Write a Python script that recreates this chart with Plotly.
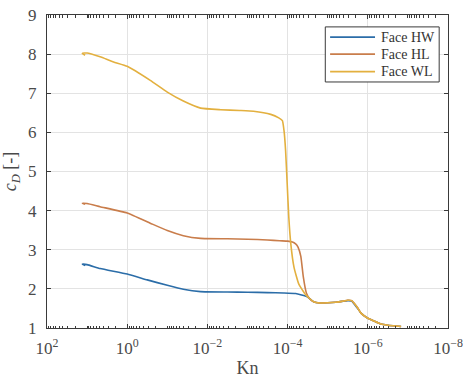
import plotly.graph_objects as go

# Knudsen number (log10 exponents) and drag coefficient values
hw_logkn = [1.05, 1.12, 1.0, 0.675, 0.0, -0.5, -1.0, -1.4, -1.83, -2.5, -3.0, -3.5, -3.9, -4.2, -4.49, -4.65,
            -4.8, -5.0, -5.2, -5.35, -5.5, -5.6, -5.67, -5.75, -5.83, -6.0, -6.15, -6.33, -6.5, -6.7, -6.83]
hw_cd = [2.60, 2.63, 2.62, 2.52, 2.38, 2.23, 2.09, 1.99, 1.93, 1.92, 1.915, 1.905, 1.895, 1.88, 1.80, 1.67,
         1.64, 1.645, 1.66, 1.68, 1.70, 1.69, 1.60, 1.50, 1.38, 1.25, 1.18, 1.10, 1.07, 1.05, 1.04]

hl_logkn = [1.05, 1.12, 1.0, 0.675, 0.0, -0.575, -1.0, -1.4, -1.83, -2.5, -3.0, -3.5, -3.8, -4.0, -4.12,
            -4.2, -4.26, -4.33, -4.39, -4.47, -4.55, -4.65, -4.8, -5.0, -5.2, -5.35, -5.5, -5.6, -5.67,
            -5.75, -5.83, -6.0, -6.15, -6.33, -6.5, -6.7, -6.83]
hl_cd = [4.16, 4.19, 4.18, 4.10, 3.94, 3.68, 3.49, 3.36, 3.29, 3.28, 3.27, 3.25, 3.23, 3.22, 3.20,
         3.15, 3.07, 2.83, 2.32, 1.89, 1.75, 1.67, 1.64, 1.645, 1.66, 1.68, 1.71, 1.70, 1.62,
         1.51, 1.38, 1.25, 1.18, 1.10, 1.07, 1.05, 1.04]

wl_logkn = [1.05, 1.12, 1.0, 0.675, 0.34, 0.0, -0.575, -1.0, -1.4, -1.83, -2.33, -2.8, -3.15, -3.58, -3.78,
            -3.87, -3.91, -3.95, -3.99, -4.03, -4.08, -4.16, -4.28, -4.45, -4.65, -4.8, -5.0, -5.2, -5.35,
            -5.5, -5.6, -5.67, -5.75, -5.83, -6.0, -6.15, -6.33, -6.5, -6.7, -6.83]
wl_cd = [7.97, 8.02, 8.03, 7.93, 7.80, 7.69, 7.33, 7.03, 6.80, 6.62, 6.58, 6.56, 6.54, 6.46, 6.37,
         6.30, 6.05, 5.54, 4.68, 3.83, 3.15, 2.55, 2.12, 1.85, 1.67, 1.64, 1.645, 1.66, 1.68,
         1.71, 1.70, 1.62, 1.51, 1.38, 1.25, 1.18, 1.10, 1.07, 1.05, 1.04]

series_names = ["Face HW", "Face HL", "Face WL"]
series_colors = ["#2b6da8", "#c97d4b", "#e3b03f"]

x_tickvals = [1e2, 1e0, 1e-2, 1e-4, 1e-6, 1e-8]
x_ticktext = ["10<sup>2</sup>", "10<sup>0</sup>", "10<sup>−2</sup>", "10<sup>−4</sup>",
              "10<sup>−6</sup>", "10<sup>−8</sup>"]
y_tickvals = [1, 2, 3, 4, 5, 6, 7, 8, 9]

FONT = "Liberation Serif"
TXT = "#4a4a4a"
AX = "#3a3a3a"

fig = go.Figure()
for name, color, lk, cd in zip(series_names, series_colors,
                               [hw_logkn, hl_logkn, wl_logkn], [hw_cd, hl_cd, wl_cd]):
    fig.add_trace(go.Scatter(
        x=[10 ** v for v in lk], y=cd, mode="lines", name=name, showlegend=False,
        line=dict(color=color, width=1.6, shape="spline", smoothing=0.4),
    ))

axis_common = dict(
    showline=True, linecolor=AX, linewidth=1, mirror="ticks",
    ticks="inside", ticklen=4, tickcolor=AX, tickwidth=1,
    showgrid=True, gridcolor="#e3e3e3", gridwidth=1, zeroline=False,
    tickfont=dict(family=FONT, size=17, color=TXT), automargin=False,
)

fig.update_xaxes(
    type="log", range=[2, -8], tickvals=x_tickvals, ticktext=x_ticktext,
    ticklabelstandoff=5,
    title=dict(text="Kn", font=dict(family=FONT, size=18, color=TXT), standoff=6),
    minor=dict(dtick="D1", ticks="inside", ticklen=2.5, tickcolor=AX, showgrid=False),
    **axis_common,
)
fig.update_yaxes(
    range=[1, 9], tickvals=y_tickvals, ticklabelstandoff=6,
    title=dict(text="<i>c</i><sub><i>D</i></sub> [-]", font=dict(family=FONT, size=18, color=TXT), standoff=6),
    **axis_common,
)

# Manual legend (compact MATLAB-style box)
leg_x0, leg_x1, leg_top, leg_bot = 0.694, 0.978, 0.962, 0.786
row_y = [0.929, 0.875, 0.819]
fig.add_shape(type="rect", xref="paper", yref="paper", x0=leg_x0, x1=leg_x1, y0=leg_bot, y1=leg_top,
              line=dict(color=AX, width=1), fillcolor="white", layer="above")
for name, color, ry in zip(series_names, series_colors, row_y):
    fig.add_shape(type="line", xref="paper", yref="paper", x0=0.706, x1=0.818, y0=ry, y1=ry,
                  line=dict(color=color, width=1.8), layer="above")
    fig.add_annotation(xref="paper", yref="paper", x=0.829, y=ry, text=name, showarrow=False,
                       xanchor="left", yanchor="middle",
                       font=dict(family=FONT, size=14, color="#333333"))

fig.update_layout(
    width=463, height=378,
    margin=dict(l=47, r=15, t=15, b=50),
    paper_bgcolor="white", plot_bgcolor="white",
    font=dict(family=FONT, color=TXT),
    showlegend=False,
)

fig.write_html("out.html")
